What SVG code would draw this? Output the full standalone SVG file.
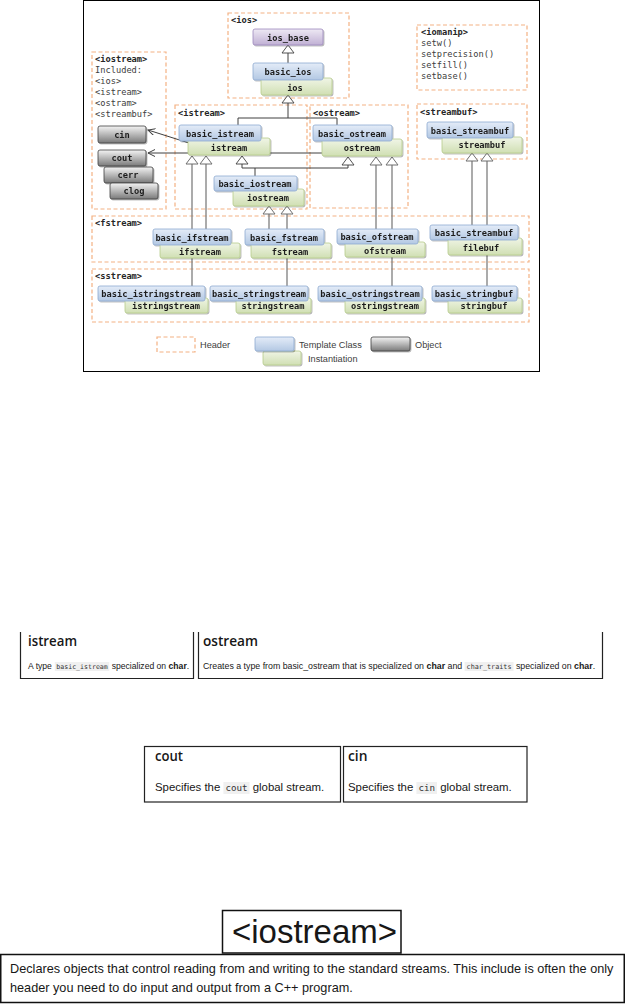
<svg xmlns="http://www.w3.org/2000/svg" width="626" height="1004" viewBox="0 0 626 1004">
<style>
.bg{fill:#ffffff}
.frame{fill:none;stroke:#000;stroke-width:1}
.hdr{fill:none;stroke:#f4b183;stroke-width:1.2;stroke-dasharray:4 2.5}
.blue{fill:url(#blueG);stroke:#8eaad0;stroke-width:0.8}
.green{fill:url(#greenG);stroke:#b6cc8c;stroke-width:0.8}
.purple{fill:url(#purpleG);stroke:#9d89bd;stroke-width:0.8}
.gray{fill:url(#grayG);stroke:#3f3f3f;stroke-width:0.8}
.nt{font-family:"DejaVu Sans Mono","Liberation Mono",monospace;font-size:8.7px;font-weight:bold;fill:#1f1f1f;text-anchor:middle}
.ht{font-family:"DejaVu Sans Mono","Liberation Mono",monospace;font-size:8.7px;font-weight:bold;fill:#262626}
.mt{font-family:"DejaVu Sans Mono","Liberation Mono",monospace;font-size:8.7px;fill:#404040}
.lt{font-family:"Liberation Sans",Arial,sans-serif;font-size:9.2px;fill:#404040}
.dk{fill:none;stroke:#404040;stroke-width:1}
.gl{fill:none;stroke:#7f7f7f;stroke-width:1.3}
.tri{fill:#ffffff;stroke:#404040;stroke-width:0.9}
.trig{fill:#ffffff;stroke:#6f6f6f;stroke-width:1}
.box{fill:none;stroke:#222;stroke-width:1.2}
.box2{fill:none;stroke:#111;stroke-width:1.5}
.title{font-family:"Open Sans","Liberation Sans",sans-serif;font-weight:600;font-size:15px;fill:#171717}
.desc{font-family:"Liberation Sans",Arial,sans-serif;fill:#171717}
.code{font-family:"DejaVu Sans Mono","Liberation Mono",monospace;fill:#333}
.cbg{fill:#f0f0f0}
</style>
<defs>
<linearGradient id="blueG" x1="0" y1="0" x2="0" y2="1"><stop offset="0" stop-color="#e4ecf8"/><stop offset="1" stop-color="#b3c8e3"/></linearGradient>
<linearGradient id="greenG" x1="0" y1="0" x2="0" y2="1"><stop offset="0" stop-color="#f0f5e6"/><stop offset="1" stop-color="#d0dfb3"/></linearGradient>
<linearGradient id="purpleG" x1="0" y1="0" x2="0" y2="1"><stop offset="0" stop-color="#eee9f4"/><stop offset="1" stop-color="#c0b0d4"/></linearGradient>
<linearGradient id="grayG" x1="0" y1="0" x2="0" y2="1"><stop offset="0" stop-color="#f4f4f4"/><stop offset="1" stop-color="#7a7a7a"/></linearGradient>
<filter id="sh" x="-10%" y="-20%" width="130%" height="160%"><feDropShadow dx="1" dy="1" stdDeviation="0.7" flood-color="#000" flood-opacity="0.3"/></filter>
<marker id="arr" markerUnits="userSpaceOnUse" markerWidth="8" markerHeight="8" refX="7" refY="3.5" orient="auto"><path d="M0,0 L7,3.5 L0,7" fill="none" stroke="#404040" stroke-width="1"/></marker>
</defs>
<rect class="bg" x="0" y="0" width="626" height="1004"/>

<rect class="frame" x="83.5" y="0.5" width="456" height="371"/>

<g id="headers">
<g id="hdr-ios"><rect class="hdr" x="228" y="13" width="121" height="85"/><text class="ht" x="231" y="23">&lt;ios&gt;</text></g>
<g id="hdr-iomanip"><rect class="hdr" x="417" y="25" width="110" height="65"/><text class="ht" x="421" y="35">&lt;iomanip&gt;</text><text class="mt" x="421" y="46">setw()</text><text class="mt" x="421" y="57">setprecision()</text><text class="mt" x="421" y="68">setfill()</text><text class="mt" x="421" y="79">setbase()</text></g>
<g id="hdr-iostream"><rect class="hdr" x="92" y="52" width="74" height="157"/><text class="ht" x="95" y="62">&lt;iostream&gt;</text><text class="mt" x="95" y="73">Included:</text><text class="mt" x="95" y="84">&lt;ios&gt;</text><text class="mt" x="95" y="95">&lt;istream&gt;</text><text class="mt" x="95" y="106">&lt;ostram&gt;</text><text class="mt" x="95" y="117">&lt;streambuf&gt;</text></g>
<g id="hdr-istream"><rect class="hdr" x="175" y="105" width="132" height="104"/><text class="ht" x="178" y="116">&lt;istream&gt;</text></g>
<g id="hdr-ostream"><rect class="hdr" x="310" y="105" width="98" height="103"/><text class="ht" x="313" y="116">&lt;ostream&gt;</text></g>
<g id="hdr-streambuf"><rect class="hdr" x="417" y="104" width="110" height="55"/><text class="ht" x="420" y="115">&lt;streambuf&gt;</text></g>
<g id="hdr-fstream"><rect class="hdr" x="92" y="216" width="437" height="46"/><text class="ht" x="95" y="226">&lt;fstream&gt;</text></g>
<g id="hdr-sstream"><rect class="hdr" x="92" y="269" width="437" height="53"/><text class="ht" x="95" y="279">&lt;sstream&gt;</text></g>
</g>

<g id="connectors">
<path class="dk" d="M288,53 V63 M288,103 V118 M238,118 H337 M238,118 V125 M337,118 V125 M242,164 V168 H348 V165 M255,168 V176"/>
<path class="gl" d="M192,164 V229 M206,164 V229 M269,214 V229 M287,214 V229 M376,165 V229 M392,165 V229 M472,161 V225 M487,161 V225 M192,258 V286 M287,258 V286 M392,257 V286 M487,255 V286"/>
<path class="dk" d="M322,153 H148" marker-end="url(#arr)"/>
<path class="dk" d="M189,143 L148,130" marker-end="url(#arr)"/>
<polygon class="tri" points="288,45 282,53 294,53"/>
<polygon class="tri" points="288,95 282,103 294,103"/>
<polygon class="trig" points="192,156 186,164 198,164"/>
<polygon class="trig" points="206,156 200,164 212,164"/>
<polygon class="tri" points="242,156 236,164 248,164"/>
<polygon class="tri" points="348,157 342,165 354,165"/>
<polygon class="trig" points="376,157 370,165 382,165"/>
<polygon class="trig" points="392,157 386,165 398,165"/>
<polygon class="trig" points="472,153 466,161 478,161"/>
<polygon class="trig" points="487,153 481,161 493,161"/>
<polygon class="trig" points="269,206 263,214 275,214"/>
<polygon class="trig" points="287,206 281,214 293,214"/>
</g>

<g id="nodes" filter="url(#sh)">
<g id="ios_base"><rect class="purple" x="253" y="29" width="70" height="16" rx="2"/><text class="nt" x="288" y="41">ios_base</text></g>
<g id="ios"><rect class="green" x="261" y="78" width="71" height="17" rx="2"/><text class="nt" x="295" y="91">ios</text></g>
<g id="basic_ios"><rect class="blue" x="253" y="63" width="70" height="17" rx="2"/><text class="nt" x="288" y="75">basic_ios</text></g>
<g id="cin"><rect class="gray" x="98" y="126" width="48" height="17" rx="2"/><text class="nt" x="122" y="138">cin</text></g>
<g id="cout"><rect class="gray" x="98" y="150" width="48" height="16" rx="2"/><text class="nt" x="122" y="161">cout</text></g>
<g id="cerr"><rect class="gray" x="104" y="167" width="49" height="16" rx="2"/><text class="nt" x="128" y="178">cerr</text></g>
<g id="clog"><rect class="gray" x="110" y="183" width="48" height="16" rx="2"/><text class="nt" x="134" y="194">clog</text></g>
<g id="istream"><rect class="green" x="188" y="138" width="82" height="17" rx="2"/><text class="nt" x="229" y="151">istream</text></g>
<g id="basic_istream"><rect class="blue" x="179" y="125" width="82" height="16" rx="2"/><text class="nt" x="220" y="137">basic_istream</text></g>
<g id="ostream"><rect class="green" x="322" y="139" width="80" height="17" rx="2"/><text class="nt" x="362" y="151">ostream</text></g>
<g id="basic_ostream"><rect class="blue" x="313" y="125" width="79" height="16" rx="2"/><text class="nt" x="352" y="137">basic_ostream</text></g>
<g id="iostream"><rect class="green" x="233" y="189" width="71" height="17" rx="2"/><text class="nt" x="268" y="201">iostream</text></g>
<g id="basic_iostream"><rect class="blue" x="214" y="176" width="83" height="15" rx="2"/><text class="nt" x="255" y="187">basic_iostream</text></g>
<g id="streambuf"><rect class="green" x="442" y="137" width="80" height="16" rx="2"/><text class="nt" x="482" y="148">streambuf</text></g>
<g id="basic_streambuf"><rect class="blue" x="427" y="122" width="86" height="16" rx="2"/><text class="nt" x="470" y="134">basic_streambuf</text></g>
<g id="ifstream"><rect class="green" x="160" y="243" width="80" height="15" rx="2"/><text class="nt" x="200" y="255">ifstream</text></g>
<g id="basic_ifstream"><rect class="blue" x="153" y="229" width="78" height="16" rx="2"/><text class="nt" x="192" y="241">basic_ifstream</text></g>
<g id="fstream"><rect class="green" x="251" y="243" width="80" height="15" rx="2"/><text class="nt" x="290" y="255">fstream</text></g>
<g id="basic_fstream"><rect class="blue" x="245" y="229" width="79" height="16" rx="2"/><text class="nt" x="284" y="241">basic_fstream</text></g>
<g id="ofstream"><rect class="green" x="345" y="242" width="80" height="15" rx="2"/><text class="nt" x="385" y="254">ofstream</text></g>
<g id="basic_ofstream"><rect class="blue" x="337" y="229" width="81" height="15" rx="2"/><text class="nt" x="377" y="240">basic_ofstream</text></g>
<g id="filebuf"><rect class="green" x="448" y="238" width="74" height="17" rx="2"/><text class="nt" x="481" y="251">filebuf</text></g>
<g id="basic_streambuf_f"><rect class="blue" x="430" y="225" width="88" height="15" rx="2"/><text class="nt" x="474" y="236">basic_streambuf</text></g>
<g id="istringstream"><rect class="green" x="125" y="298" width="83" height="15" rx="2"/><text class="nt" x="166" y="309">istringstream</text></g>
<g id="basic_istringstream"><rect class="blue" x="98" y="286" width="107" height="15" rx="2"/><text class="nt" x="151" y="297">basic_istringstream</text></g>
<g id="stringstream"><rect class="green" x="236" y="298" width="75" height="15" rx="2"/><text class="nt" x="273" y="309">stringstream</text></g>
<g id="basic_stringstream"><rect class="blue" x="210" y="286" width="98" height="15" rx="2"/><text class="nt" x="259" y="297">basic_stringstream</text></g>
<g id="ostringstream"><rect class="green" x="345" y="298" width="80" height="15" rx="2"/><text class="nt" x="385" y="309">ostringstream</text></g>
<g id="basic_ostringstream"><rect class="blue" x="318" y="286" width="104" height="15" rx="2"/><text class="nt" x="370" y="297">basic_ostringstream</text></g>
<g id="stringbuf"><rect class="green" x="448" y="298" width="74" height="15" rx="2"/><text class="nt" x="484" y="309">stringbuf</text></g>
<g id="basic_stringbuf"><rect class="blue" x="432" y="286" width="85" height="15" rx="2"/><text class="nt" x="474" y="297">basic_stringbuf</text></g>
</g>

<g id="legend">
<rect class="hdr" x="157" y="337" width="38" height="15"/><text class="lt" x="200" y="348">Header</text>
<rect class="green" x="263" y="351" width="38" height="14" rx="2" filter="url(#sh)"/>
<rect class="blue" x="255" y="337" width="39" height="14" rx="2" filter="url(#sh)"/><text class="lt" x="299" y="348">Template Class</text>
<text class="lt" x="308" y="362">Instantiation</text>
<rect class="gray" x="371" y="337" width="39" height="14" rx="2" filter="url(#sh)"/><text class="lt" x="415" y="348">Object</text>
</g>

<g id="card-istream">
<path class="box" d="M20.5,632 V678.5 H193.5 V632"/>
<text class="title" x="28" y="646" textLength="49" lengthAdjust="spacingAndGlyphs">istream</text>
<text class="desc" x="28" y="669" font-size="8.6">A type</text>
<rect class="cbg" x="54.8" y="662" width="54.5" height="9"/>
<text class="code" x="56.3" y="669" font-size="6.6" textLength="51.5" lengthAdjust="spacingAndGlyphs">basic_istream</text>
<text class="desc" x="111.7" y="669" font-size="8.6">specialized on</text>
<text class="desc" x="168.6" y="669" font-size="8.6" font-weight="bold">char</text>
<text class="desc" x="186.8" y="669" font-size="8.6">.</text>
</g>

<g id="card-ostream">
<path class="box" d="M198.5,632 V678.5 H602.5 V632"/>
<text class="title" x="203" y="646" textLength="55" lengthAdjust="spacingAndGlyphs">ostream</text>
<text class="desc" x="203" y="669" font-size="8.8">Creates a type from basic_ostream that is specialized on</text>
<text class="desc" x="426.5" y="669" font-size="8.8" font-weight="bold">char</text>
<text class="desc" x="447.5" y="669" font-size="8.8">and</text>
<rect class="cbg" x="464.6" y="662" width="48.9" height="9"/>
<text class="code" x="466.6" y="669" font-size="6.8" textLength="44.9" lengthAdjust="spacingAndGlyphs">char_traits</text>
<text class="desc" x="515.9" y="669" font-size="8.8">specialized on</text>
<text class="desc" x="574.1" y="669" font-size="8.8" font-weight="bold">char</text>
<text class="desc" x="592.7" y="669" font-size="8.8">.</text>
</g>

<g id="card-cout">
<rect class="box" x="144.5" y="746.5" width="196" height="55.5"/>
<text class="title" x="155" y="761" textLength="28" lengthAdjust="spacingAndGlyphs">cout</text>
<text class="desc" x="155" y="791" font-size="11.4">Specifies the</text>
<rect class="cbg" x="223.4" y="782" width="26.1" height="12"/>
<text class="code" x="225.4" y="791" font-size="9" textLength="22.1" lengthAdjust="spacingAndGlyphs">cout</text>
<text class="desc" x="252.7" y="791" font-size="11.4">global stream.</text>
</g>

<g id="card-cin">
<rect class="box" x="343.5" y="746.5" width="183.5" height="55.5"/>
<text class="title" x="348" y="761" textLength="19.5" lengthAdjust="spacingAndGlyphs">cin</text>
<text class="desc" x="348" y="791" font-size="11.4">Specifies the</text>
<rect class="cbg" x="416.4" y="782" width="20.6" height="12"/>
<text class="code" x="418.4" y="791" font-size="9" textLength="16.6" lengthAdjust="spacingAndGlyphs">cin</text>
<text class="desc" x="440.2" y="791" font-size="11.4">global stream.</text>
</g>

<g id="card-iostream-title">
<rect class="box2" x="222.5" y="910.5" width="178.5" height="42.5"/>
<text class="desc" x="232" y="943" font-size="33">&lt;iostream&gt;</text>
</g>

<g id="card-iostream-desc">
<rect class="box2" x="0.75" y="954.5" width="623.5" height="48"/>
<text class="desc" x="10" y="973" font-size="12.7">Declares objects that control reading from and writing to the standard streams. This include is often the only</text>
<text class="desc" x="10" y="992" font-size="12.7">header you need to do input and output from a C++ program.</text>
</g>
</svg>
